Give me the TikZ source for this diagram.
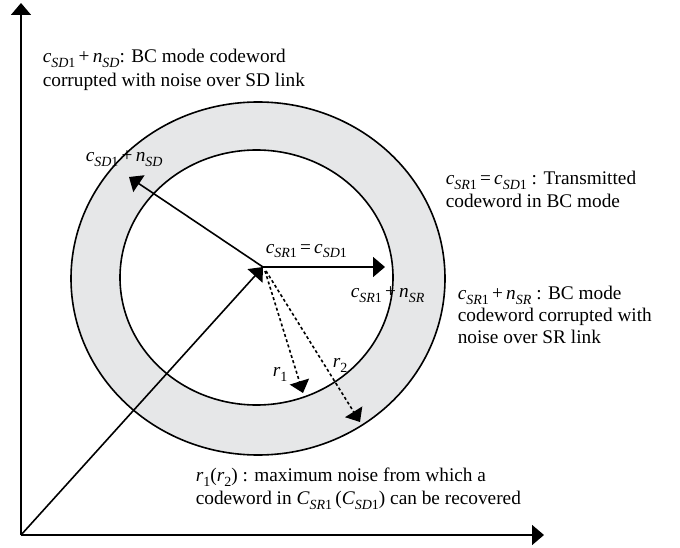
\documentclass[tikz,border=0pt]{standalone}
\usepackage{fontspec}
\setmainfont{Liberation Serif}
\usetikzlibrary{arrows.meta}
\definecolor{ringgray}{HTML}{E6E7E8}
\newcommand{\sbs}[1]{\raisebox{-5pt}{\fontsize{14}{14}\selectfont #1}}
\newcommand{\vc}[1]{\textit{c}\sbs{\textit{#1}1}}
\newcommand{\vn}[1]{\textit{n}\sbs{\textit{#1}}}
\begin{document}
\begin{tikzpicture}[x=1pt,y=-1pt,line width=1.6pt,
  >={Triangle[length=12pt,width=20pt]},
  txt/.style={anchor=base west,inner sep=0pt,font=\fontsize{19.3}{23}\selectfont},
  dsh/.style={dash pattern=on 3pt off 2.5pt}]
\useasboundingbox (0,0) rectangle (680,548);
% ring
\fill[ringgray,even odd rule] (258,278.5) ellipse [x radius=187,y radius=176.5]
  (256.5,277.5) ellipse [x radius=136.5,y radius=127.5];
\draw (258,278.5) ellipse [x radius=187,y radius=176.5];
\draw (256.5,277.5) ellipse [x radius=136.5,y radius=127.5];
% points
\coordinate (O) at (21,535);
\coordinate (ytip) at (21,3);
\coordinate (xtip) at (544,535);
\coordinate (P) at (263,267);
\coordinate (sd) at (129,177);
\coordinate (sr) at (385,267);
\coordinate (r1s) at (265,271);
\coordinate (r1e) at (303,393);
\coordinate (r2s) at (266,271);
\coordinate (r2e) at (360,422);
% axes and vectors
\draw[->] (O) -- (ytip);
\draw[->] (O) -- (xtip);
\draw[->] (O) -- (P);
\draw[->] (P) -- (sd);
\draw[->] (P) -- (sr);
\draw[->,dsh] (r1s) -- (r1e);
\draw[->,dsh] (r2s) -- (r2e);
% labels
\node[txt] (l1) at (85,162) {\vc{SD}\,+\,\vn{SD}};
\node[txt] (l2) at (265,253) {\vc{SR}\,=\,\vc{SD}};
\node[txt] (l3) at (350,297) {\vc{SR}\,+\,\vn{SR}};
\node[txt] (l4) at (272,376) {\textit{r}\sbs{1}};
\node[txt] (l5) at (332,367) {\textit{r}\sbs{2}};
% descriptions
\node[txt] (tl1) at (42,63) {\vc{SD}\,+\,\vn{SD}: BC mode codeword};
\node[txt] (tl2) at (42,87) {corrupted with noise over SD link};
\node[txt] (ra1) at (445,185) {\vc{SR}\,=\,\vc{SD} : Transmitted};
\node[txt] (ra2) at (445,208) {codeword in BC mode};
\node[txt] (rb1) at (457,299) {\vc{SR}\,+\,\vn{SR} : BC mode};
\node[txt] (rb2) at (457,321) {codeword corrupted with};
\node[txt] (rb3) at (457,343) {noise over SR link};
\node[txt] (bt1) at (195,481) {\textit{r}\sbs{1}(\textit{r}\sbs{2}) : maximum noise from which a};
\node[txt] (bt2) at (195,504) {codeword in \textit{C}\sbs{\textit{SR}1}\,(\textit{C}\sbs{\textit{SD}1}) can be recovered};
\end{tikzpicture}
\end{document}
